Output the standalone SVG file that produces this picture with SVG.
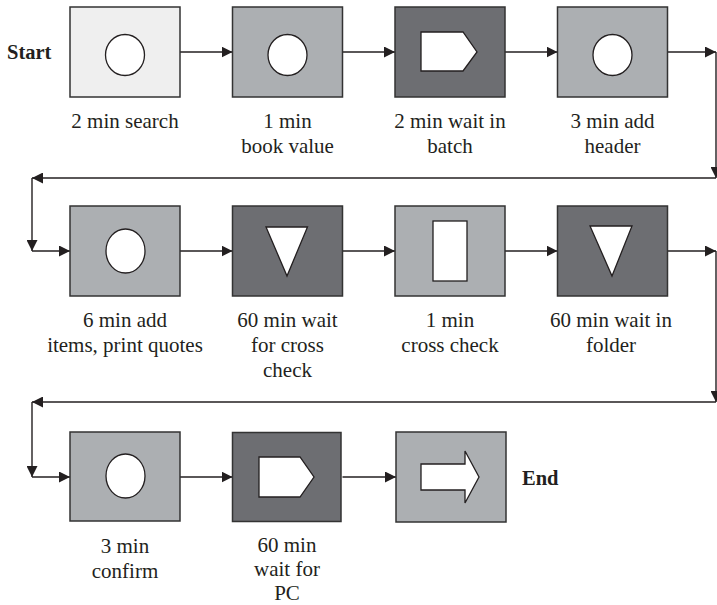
<svg xmlns="http://www.w3.org/2000/svg" width="717" height="605" viewBox="0 0 717 605">
  <defs>
    <style>
      .box { stroke: #333333; stroke-width: 1.5; }
      .light { fill: #efefef; }
      .mid { fill: #acafb2; }
      .dark { fill: #6d6e72; }
      .sym { fill: #ffffff; stroke: #231f20; stroke-width: 1.3; }
      .wire { fill: none; stroke: #231f20; stroke-width: 1.4; marker-end: url(#head); }
      .lbl { font-family: "Liberation Serif", "DejaVu Serif", serif; font-size: 21px; fill: #231f20; text-anchor: middle; }
      .term { font-family: "Liberation Serif", "DejaVu Serif", serif; font-size: 20.5px; font-weight: bold; fill: #231f20; }
    </style>
    <marker id="head" viewBox="0 0 11 11" refX="11" refY="5.5" markerWidth="11" markerHeight="11" markerUnits="userSpaceOnUse" orient="auto">
      <path d="M0,0 L11,5.5 L0,11 z" fill="#231f20"/>
    </marker>
  </defs>

  <rect width="717" height="605" fill="#ffffff"/>

  <text class="term" x="7" y="59">Start</text>
  <text class="term" x="522" y="485">End</text>

  <!-- connectors -->
  <g id="connectors">
    <line class="wire" x1="180" y1="52" x2="232.5" y2="52"/>
    <line class="wire" x1="342.5" y1="52" x2="395" y2="52"/>
    <line class="wire" x1="505" y1="52" x2="557.5" y2="52"/>
    <line class="wire" x1="667.5" y1="52" x2="716" y2="52"/>
    <line class="wire" x1="716" y1="52" x2="716" y2="178"/>
    <line class="wire" x1="716" y1="178" x2="32" y2="178"/>
    <line class="wire" x1="32" y1="178" x2="32" y2="251"/>
    <line class="wire" x1="32" y1="251" x2="70" y2="251"/>

    <line class="wire" x1="180" y1="251" x2="232.5" y2="251"/>
    <line class="wire" x1="342.5" y1="251" x2="395" y2="251"/>
    <line class="wire" x1="505" y1="251" x2="557.5" y2="251"/>
    <line class="wire" x1="667.5" y1="251" x2="716" y2="251"/>
    <line class="wire" x1="716" y1="251" x2="716" y2="402"/>
    <line class="wire" x1="716" y1="402" x2="32" y2="402"/>
    <line class="wire" x1="32" y1="402" x2="32" y2="477"/>
    <line class="wire" x1="32" y1="477" x2="70" y2="477"/>

    <line class="wire" x1="180" y1="477" x2="232.5" y2="477"/>
    <line class="wire" x1="342.5" y1="477" x2="396" y2="477"/>
  </g>

  <!-- row 1 -->
  <g id="search">
    <rect class="box light" x="70" y="7" width="110" height="90"/>
    <ellipse class="sym" cx="125" cy="55" rx="19.5" ry="20.5"/>
    <text class="lbl" x="125" y="128">2 min search</text>
  </g>
  <g id="book-value">
    <rect class="box mid" x="232.5" y="7" width="110" height="90"/>
    <ellipse class="sym" cx="287.5" cy="55" rx="19.5" ry="20.5"/>
    <text class="lbl" x="287.5" y="128">1 min</text>
    <text class="lbl" x="287.5" y="153">book value</text>
  </g>
  <g id="wait-batch">
    <rect class="box dark" x="395" y="7" width="110" height="90"/>
    <polygon class="sym" points="421,32 463,32 477,52 463,71 421,71"/>
    <text class="lbl" x="450" y="128">2 min wait in</text>
    <text class="lbl" x="450" y="153">batch</text>
  </g>
  <g id="add-header">
    <rect class="box mid" x="557.5" y="7" width="110" height="90"/>
    <ellipse class="sym" cx="612.5" cy="55" rx="19.5" ry="20.5"/>
    <text class="lbl" x="612.5" y="128">3 min add</text>
    <text class="lbl" x="612.5" y="153">header</text>
  </g>

  <!-- row 2 -->
  <g id="add-items">
    <rect class="box mid" x="70" y="206" width="110" height="90"/>
    <ellipse class="sym" cx="125.5" cy="251" rx="19.5" ry="22"/>
    <text class="lbl" x="125" y="327">6 min add</text>
    <text class="lbl" x="125" y="352">items, print quotes</text>
  </g>
  <g id="wait-cross-check">
    <rect class="box dark" x="232.5" y="206" width="110" height="90"/>
    <polygon class="sym" points="266,227 307.5,227 287,276"/>
    <text class="lbl" x="287.5" y="327">60 min wait</text>
    <text class="lbl" x="287.5" y="352">for cross</text>
    <text class="lbl" x="287.5" y="377">check</text>
  </g>
  <g id="cross-check">
    <rect class="box mid" x="395" y="206" width="110" height="90"/>
    <rect class="sym" x="433" y="221" width="34" height="60"/>
    <text class="lbl" x="450" y="327">1 min</text>
    <text class="lbl" x="450" y="352">cross check</text>
  </g>
  <g id="wait-folder">
    <rect class="box dark" x="557.5" y="206" width="110" height="90"/>
    <polygon class="sym" points="590,226 632,226 612,276"/>
    <text class="lbl" x="611" y="327">60 min wait in</text>
    <text class="lbl" x="611" y="352">folder</text>
  </g>

  <!-- row 3 -->
  <g id="confirm">
    <rect class="box mid" x="70" y="432" width="110" height="89"/>
    <ellipse class="sym" cx="125.5" cy="476" rx="19.5" ry="22"/>
    <text class="lbl" x="125" y="553">3 min</text>
    <text class="lbl" x="125" y="578">confirm</text>
  </g>
  <g id="wait-pc">
    <rect class="box dark" x="232.5" y="432.5" width="108.5" height="89"/>
    <polygon class="sym" points="259,457 300,457 314,477 300,497 259,497"/>
    <text class="lbl" x="287" y="552">60 min</text>
    <text class="lbl" x="287" y="576">wait for</text>
    <text class="lbl" x="287" y="600">PC</text>
  </g>
  <g id="end-step">
    <rect class="box mid" x="396" y="432" width="110" height="90"/>
    <polygon class="sym" points="421,464 465,464 465,451 479,477 465,503 465,490 421,490"/>
  </g>
</svg>
